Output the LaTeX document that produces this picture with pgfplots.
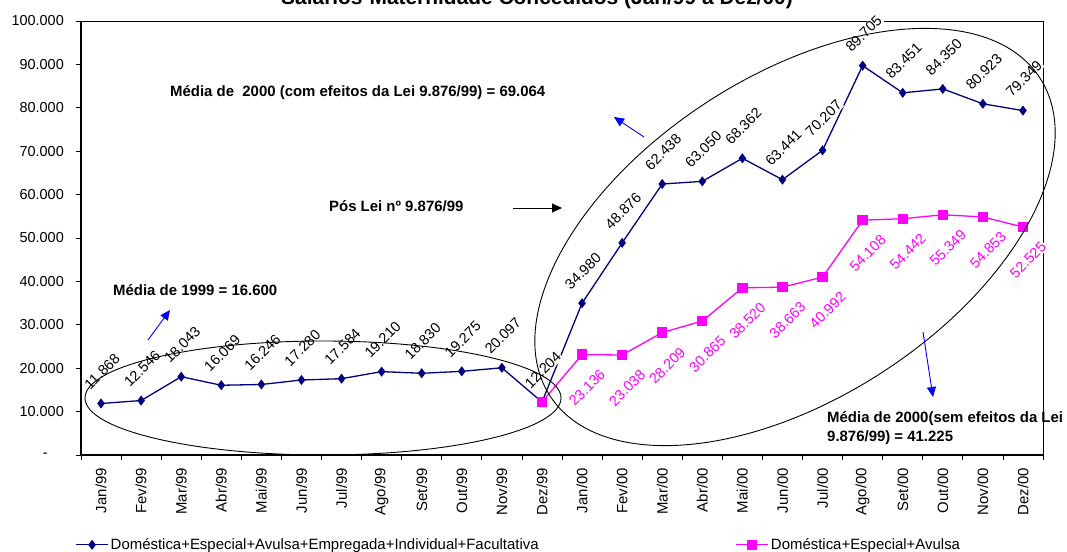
\documentclass[border=0pt]{standalone}
\usepackage{fontspec}
\setmainfont{Liberation Sans}
\usepackage{pgfplots}
\pgfplotsset{compat=1.18}
\usetikzlibrary{arrows.meta}
\definecolor{navy}{RGB}{0,0,128}
\definecolor{mag}{RGB}{255,0,255}
\definecolor{arrblue}{RGB}{0,0,255}
\begin{document}
\begin{tikzpicture}
\useasboundingbox (0,0) rectangle (1067bp,552bp);
\begin{axis}[
  at={(81bp,97bp)}, anchor=south west,
  scale only axis, width=962bp, height=434bp,
  xmin=-0.5, xmax=23.5, ymin=0, ymax=100000,
  clip=false, scaled y ticks=false,
  axis line style={black, line width=0.8bp},
  tick align=outside, tick pos=left,
  xtick={0,...,23},
  xticklabels={Jan/99,Fev/99,Mar/99,Abr/99,Mai/99,Jun/99,Jul/99,Ago/99,Set/99,Out/99,Nov/99,Dez/99,Jan/00,Fev/00,Mar/00,Abr/00,Mai/00,Jun/00,Jul/00,Ago/00,Set/00,Out/00,Nov/00,Dez/00},
  major x tick style={draw=none},
  minor xtick={-0.5,0.5,...,23.5},
  minor tick length=5bp, major tick length=5bp,
  tick style={black, line width=0.8bp},
  xticklabel style={rotate=90, anchor=east, font=\fontsize{15}{16}\selectfont, inner sep=0pt},
  xticklabel shift=8bp,
  ytick={0,10000,20000,30000,40000,50000,60000,70000,80000,90000,100000},
  yticklabels={{-\hspace*{16bp}\mbox{}},10.000,20.000,30.000,40.000,50.000,60.000,70.000,80.000,90.000,100.000},
  yticklabel style={font=\fontsize{14.5}{16}\selectfont, inner sep=0pt, anchor=east},
  yticklabel shift=12bp,
  legend columns=2,
  legend style={at={(-0.006,-0.207)}, anchor=west, draw=none, fill=none, inner sep=0pt,
    font=\fontsize{15}{17}\selectfont, /tikz/every even column/.append style={column sep=195bp}},
  legend cell align=left,
  legend image code/.code={\draw[mark repeat=2,mark phase=2,#1] plot coordinates {(0bp,0bp) (16bp,0bp) (32bp,0bp)};},
]
\addplot[navy, line width=1.3bp, mark=diamond*, mark size=4bp, mark options={fill=navy, draw=navy, solid},
  nodes near coords, point meta=explicit symbolic,
  every node near coord/.append style={xshift=1bp, yshift=32bp, rotate=45, anchor=center, text=black, fill=white, inner sep=1bp, font=\fontsize{14.5}{16}\selectfont}]
coordinates {
(0,11868) [11.868] (1,12546) [12.546] (2,18043) [18.043] (3,16069) [16.069] (4,16246) [16.246] (5,17280) [17.280]
(6,17584) [17.584] (7,19210) [19.210] (8,18830) [18.830] (9,19275) [19.275] (10,20097) [20.097] (11,12204) [12.204]
(12,34980) [34.980] (13,48876) [48.876] (14,62438) [62.438] (15,63050) [63.050] (16,68362) [68.362] (17,63441) [63.441]
(18,70207) [70.207] (19,89705) [89.705] (20,83451) [83.451] (21,84350) [84.350] (22,80923) [80.923] (23,79349) [79.349]
};
\addlegendentry{Doméstica+Especial+Avulsa+Empregada+Individual+Facultativa}
\addplot[mag, line width=1.3bp, mark=square*, mark size=4.5bp, mark options={fill=mag, draw=mag, solid},
  nodes near coords, point meta=explicit symbolic,
  every node near coord/.append style={xshift=5bp, yshift=-33bp, rotate=45, anchor=center, text=mag, fill=white, inner sep=1bp, font=\fontsize{14.5}{16}\selectfont}]
coordinates {
(11,12204) [] (12,23136) [23.136] (13,23038) [23.038] (14,28209) [28.209] (15,30865) [30.865] (16,38520) [38.520]
(17,38663) [38.663] (18,40992) [40.992] (19,54108) [54.108] (20,54442) [54.442] (21,55349) [55.349] (22,54853) [54.853] (23,52525) [52.525]
};
\addlegendentry{Doméstica+Especial+Avulsa}
\draw[black, line width=1.5bp] (rel axis cs:0,1) -- (rel axis cs:0,0) -- (rel axis cs:1,0);
\end{axis}
% title (partly cut off at the top, as in the reference)
\node[font=\bfseries\fontsize{21}{24}\selectfont, anchor=base] at (537bp,547bp) {Salários-Maternidade Concedidos (Jan/99 a Dez/00)};
% ellipses
\draw[black, line width=0.9bp] (323bp,154bp) ellipse [x radius=238bp, y radius=57bp];
\draw[black, line width=0.9bp, rotate around={33:(795bp,315bp)}] (795bp,315bp) ellipse [x radius=292bp, y radius=161bp];
% arrows
\draw[arrblue, line width=0.9bp, -{Triangle[length=10bp, width=9bp]}] (148bp,212bp) -- (170bp,242bp);
\draw[arrblue, line width=0.9bp, -{Triangle[length=10bp, width=9bp]}] (644bp,415bp) -- (614bp,435bp);
\draw[black, line width=0.9bp, -{Triangle[length=10bp, width=9bp]}] (513bp,344bp) -- (562bp,344bp);
\draw[arrblue, line width=0.9bp, -{Triangle[length=10bp, width=9bp]}] (923bp,220bp) -- (933bp,155bp);
% annotations
\begin{scope}[every node/.style={font=\bfseries\fontsize{15}{18}\selectfont, inner sep=0pt}]
\node[anchor=base west] at (113bp,256bp) {Média de 1999 = 16.600};
\node[anchor=base west] at (170bp,455bp) {Média de\ \ 2000 (com efeitos da Lei 9.876/99) = 69.064};
\node[anchor=base west] at (329bp,340bp) {Pós Lei nº 9.876/99};
\node[anchor=base west] at (827bp,129bp) {Média de 2000(sem efeitos da Lei};
\node[anchor=base west] at (827bp,110bp) {9.876/99) = 41.225};
\end{scope}
\end{tikzpicture}
\end{document}
